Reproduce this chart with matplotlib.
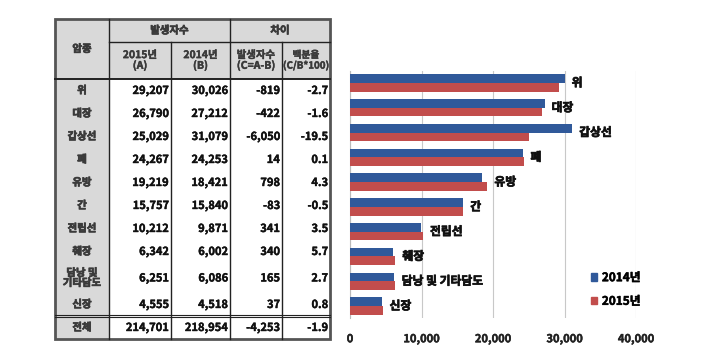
import matplotlib
matplotlib.use("Agg")
import matplotlib.pyplot as plt
from matplotlib.patches import Rectangle, Patch
import matplotlib.patheffects as pe
import numpy as np

plt.rcParams['font.family'] = ['Noto Sans CJK KR', 'DejaVu Sans']

# ---- data ----
categories = ["위", "대장", "갑상선", "폐", "유방", "간", "전립선", "췌장", "담낭 및 기타담도", "신장"]
table_categories = ["위", "대장", "갑상선", "폐", "유방", "간", "전립선", "췌장", "담낭 및\n기타담도", "신장", "전체"]
cases_2015 = [29207, 26790, 25029, 24267, 19219, 15757, 10212, 6342, 6251, 4555, 214701]
cases_2014 = [30026, 27212, 31079, 24253, 18421, 15840, 9871, 6002, 6086, 4518, 218954]
diff = [-819, -422, -6050, 14, 798, -83, 341, 340, 165, 37, -4253]
pct = [-2.7, -1.6, -19.5, 0.1, 4.3, -0.5, 3.5, 5.7, 2.7, 0.8, -1.9]
header_top = ["암종", "발생자수", "차이"]
header_sub = ["2015년\n(A)", "2014년\n(B)", "발생자수\n(C=A-B)", "백분율\n(C/B*100)"]
legend_labels = ["2014년", "2015년"]
xticks = [0, 10000, 20000, 30000, 40000]

BLUE = "#30599a"
RED = "#c24d4c"
GRAY = "#d9d9d9"


def bold(color, w=0.5):
    return [pe.withStroke(linewidth=w, foreground=color)]


fig = plt.figure(figsize=(7.2, 3.63), dpi=100)

# ---- table (pixel coordinate overlay) ----
at = fig.add_axes([0, 0, 1, 1])
at.set_xlim(0, 720)
at.set_ylim(363, 0)
at.axis("off")

col_x = [55, 109, 171, 230, 282, 330]
hy = [19, 42, 79]
row_h = [23, 23, 23, 23, 23, 23, 23, 23, 30, 23, 23]
row_y = [hy[2]]
for h in row_h:
    row_y.append(row_y[-1] + h)
bottom = row_y[-1]

# fills
at.add_patch(Rectangle((col_x[0], hy[0]), col_x[-1] - col_x[0], hy[2] - hy[0], color=GRAY, lw=0))
at.add_patch(Rectangle((col_x[0], hy[0]), col_x[1] - col_x[0], bottom - hy[0], color=GRAY, lw=0))

lc = "#222222"
at.plot([col_x[1]] * 2, [hy[0], bottom], color=lc, lw=1)
at.plot([col_x[3]] * 2, [hy[0], bottom], color=lc, lw=1)
at.plot([col_x[2]] * 2, [hy[1], bottom], color=lc, lw=1)
at.plot([col_x[4]] * 2, [hy[1], bottom], color=lc, lw=1)
at.plot([col_x[1], col_x[-1]], [hy[1]] * 2, color=lc, lw=1)
at.plot([col_x[0], col_x[-1]], [hy[2]] * 2, color=lc, lw=1.4)
at.plot([col_x[0], col_x[-1]], [row_y[-2] - 1.2] * 2, color=lc, lw=0.8)
at.plot([col_x[0], col_x[-1]], [row_y[-2] + 1.2] * 2, color=lc, lw=0.8)
at.add_patch(Rectangle((col_x[0], hy[0]), col_x[-1] - col_x[0], bottom - hy[0],
                       fill=False, ec="#555555", lw=2))

hfs = 7.5
tc = "#3a3a3a"
kw = dict(ha="center", va="center", fontweight="bold", color=tc, path_effects=bold(tc))
at.text((col_x[0] + col_x[1]) / 2, (hy[0] + hy[2]) / 2, header_top[0], fontsize=hfs, **kw)
at.text((col_x[1] + col_x[3]) / 2, (hy[0] + hy[1]) / 2, header_top[1], fontsize=hfs, **kw)
at.text((col_x[3] + col_x[5]) / 2, (hy[0] + hy[1]) / 2, header_top[2], fontsize=hfs, **kw)
for i, s in enumerate(header_sub):
    at.text((col_x[i + 1] + col_x[i + 2]) / 2, (hy[1] + hy[2]) / 2, s,
            fontsize=(7 if i == 3 else hfs), linespacing=1.0,
            ha="center", va="center", fontweight="bold", color=tc,
            path_effects=bold(tc, 0.3))

nfs = 8
for r in range(len(table_categories)):
    yc = (row_y[r] + row_y[r + 1]) / 2
    at.text((col_x[0] + col_x[1]) / 2, yc, table_categories[r], fontsize=hfs,
            linespacing=1.0, **kw)
    vals = [f"{cases_2015[r]:,}", f"{cases_2014[r]:,}", f"{diff[r]:,}", f"{pct[r]:.1f}"]
    for c, v in enumerate(vals):
        at.text(col_x[c + 2] - 2, yc, v, ha="right", va="center", fontsize=nfs,
                fontweight="bold", color="#111111", path_effects=bold("#111111", 0.3))

# ---- bar chart ----
W, H = 720, 363
ax = fig.add_axes([350 / W, (H - 318.4) / H, 286 / W, (318.4 - 70.6) / H])
ax.patch.set_alpha(0)
n = len(categories)
y = np.arange(n)
bh = 0.35
ax.barh(y - bh / 2, cases_2014[:n], height=bh, color=BLUE, label=legend_labels[0], zorder=3)
ax.barh(y + bh / 2, cases_2015[:n], height=bh, color=RED, label=legend_labels[1], zorder=3)
for i, name in enumerate(categories):
    ax.annotate(name, xy=(max(cases_2014[i], cases_2015[i]), y[i]), xytext=(7, 0),
                textcoords="offset pixels", ha="left", va="center", fontsize=8.5,
                fontweight="bold", color="#111111", path_effects=bold("#111111", 0.5))
ax.set_ylim(n - 0.5, -0.5)
ax.set_xlim(0, 40000)
ax.set_xticks(xticks)
ax.set_xticklabels([f"{v:,}" for v in xticks], fontsize=8, fontweight="bold", color="#222222")
for t in ax.get_xticklabels():
    t.set_path_effects(bold("#222222", 0.3))
ax.set_yticks([])
ax.tick_params(axis="x", length=0, pad=10)
ax.grid(axis="x", color="#c8c8c8", lw=0.8, zorder=0)
for s in ["top", "right", "bottom"]:
    ax.spines[s].set_visible(False)
ax.spines["left"].set_color("#bbbbbb")
ax.spines["left"].set_linewidth(0.8)

handles = [Patch(color=BLUE), Patch(color=RED)]
leg = fig.legend(handles, legend_labels, loc="center left",
                 bbox_to_anchor=(580 / W, 1 - 289.5 / H), frameon=False,
                 handlelength=0.55, handleheight=0.55, handletextpad=0.4,
                 labelspacing=0.9, prop={"size": 8.5, "weight": "bold"})
for t in leg.get_texts():
    t.set_path_effects(bold("#111111", 0.4))

fig.savefig("out.png", dpi=100, facecolor="white")
